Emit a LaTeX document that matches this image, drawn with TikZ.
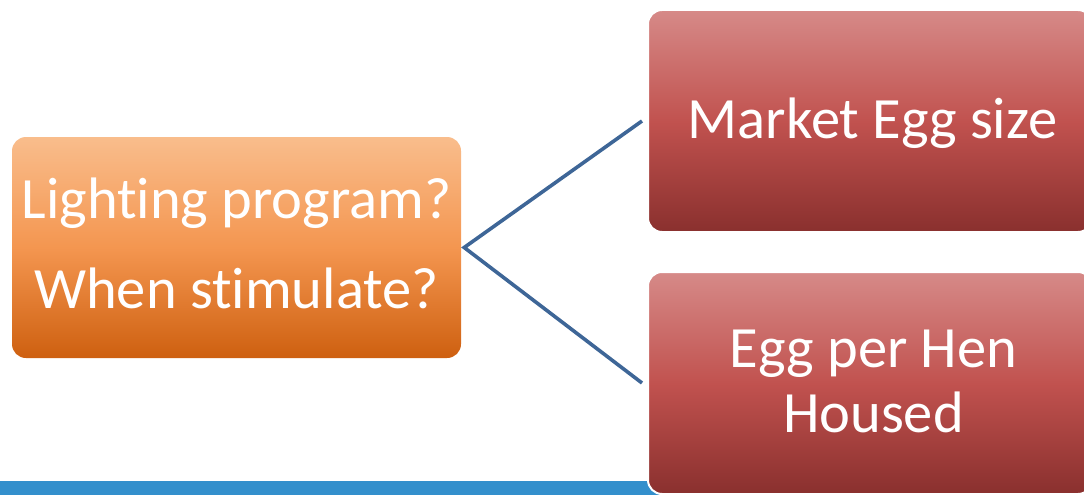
\documentclass[tikz,border=0pt]{standalone}
\usepackage{fontspec}
\setmainfont{Carlito}[Ligatures=NoCommon]
\definecolor{orTop}{RGB}{249,189,140}
\definecolor{orMid}{RGB}{244,150,80}
\definecolor{orBot}{RGB}{206,96,16}
\definecolor{rdTop}{RGB}{214,138,136}
\definecolor{rdMid}{RGB}{193,82,79}
\definecolor{rdBot}{RGB}{138,48,46}
\definecolor{barblue}{RGB}{51,143,204}
\definecolor{linkblue}{RGB}{62,102,151}
\begin{document}
\begin{tikzpicture}[x=1pt,y=-1pt,
  box/.style={rectangle, rounded corners=14pt, inner sep=0pt},
  obox/.style={box, top color=orTop, bottom color=orBot, middle color=orMid},
  rbox/.style={box, top color=rdTop, bottom color=rdBot, middle color=rdMid, draw=white, line width=2pt},
  txt/.style={text=white, font=\fontsize{58.5}{66}\selectfont, anchor=base, inner sep=0pt},
  link/.style={draw=linkblue, line width=3.6pt, line join=miter}]
\useasboundingbox (0,0) rectangle (1084,495);
\fill[barblue] (0,481) rectangle (660,495);
\node[obox, minimum width=449pt, minimum height=221pt] (o) at (236.5,247.5) {};
\node[rbox, minimum width=444pt, minimum height=222pt] (m) at (870,121) {};
\node[rbox, minimum width=444pt, minimum height=222pt] (h) at (870,383) {};
\node[txt] (t1) at (236.5,218) {Lighting program?};
\node[txt] (t2) at (236.5,308) {When stimulate?};
\node[txt] (t3) at (872.5,138) {Market Egg size};
\node[txt] (t4) at (873.5,367) {Egg per Hen};
\node[txt] (t5) at (873.5,432) {Housed};
\coordinate (fork) at ([xshift=3pt]o.east);
\draw[link] ([xshift=-5pt]m.west) -- (fork) -- ([xshift=-5pt]h.west);
\end{tikzpicture}
\end{document}
